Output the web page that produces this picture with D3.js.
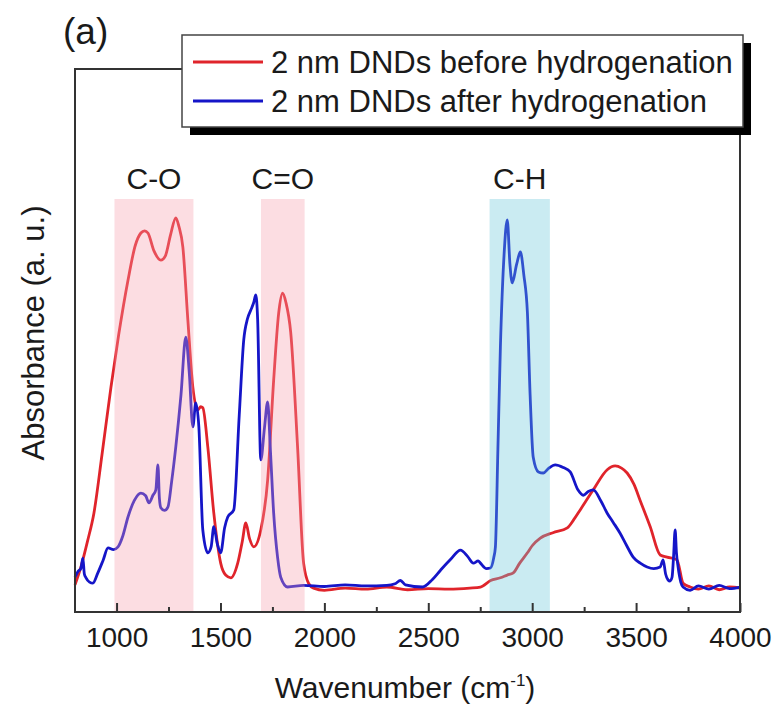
<!DOCTYPE html>
<html>
<head>
<meta charset="utf-8">
<script src="https://cdn.jsdelivr.net/npm/d3@7"></script>
<style>
    body { margin: 0; background: #fff; }
    #chart-area { width: 776px; height: 715px; }
    text { font-family: "Liberation Sans", Arial, sans-serif; fill: #1a1a1a; }
</style>
</head>
<body>
<div id="chart-area"></div>
<script>

// FTIR spectra: [wavenumber (cm-1), absorbance (a.u.)]
const beforeH = [
    [800,5.0],[830,8.5],[860,13],[891,18.2],[930,29],[973,41.4],[1010,51],[1055,61.1],[1090,67.5],
    [1117,69.8],[1135,70.2],[1151,69.8],[1180,66.5],[1213,64.8],[1235,65.6],[1260,69.5],[1285,72.6],
    [1300,71.0],[1319,67.2],[1343,53.8],[1367,41.4],[1391,37.2],[1405,37.8],[1415,37.6],[1439,30.4],
    [1468,18.2],[1501,9.0],[1525,6.8],[1550,6.3],[1583,9.0],[1605,13],[1622,16.4],[1640,13.5],
    [1660,12.0],[1694,15.1],[1727,24.3],[1756,42.7],[1780,55],[1799,58.7],[1815,57.0],[1838,51.5],
    [1871,30.4],[1900,9.0],[1925,5.2],[1948,4.4],[2000,4.0],[2100,4.4],[2200,4.2],[2300,4.6],
    [2400,4.1],[2500,4.3],[2600,4.2],[2700,4.4],[2751,4.6],[2800,5.8],[2847,6.3],[2880,6.8],
    [2909,7.2],[2940,9.0],[2977,10.9],[3000,12.2],[3039,13.6],[3100,14.6],[3169,15.5],[3200,17],
    [3231,18.8],[3294,22.5],[3361,26.2],[3399,26.9],[3430,26.5],[3457,25.6],[3490,23.5],[3519,20.6],
    [3568,15.7],[3616,10.5],[3649,10.1],[3697,9.6],[3726,5.3],[3760,4.6],[3800,4.2],[3850,4.8],
    [3900,4.1],[3950,4.6],[4000,4.4]
];

const afterH = [
    [800,6.4],[815,7.5],[828,8],[838,9.9],[845,7],[853,6.3],[870,5.5],[886,5.3],[910,7.2],[935,9.5],
    [959,11.8],[985,11.5],[1007,12.0],[1030,14],[1055,17.5],[1085,20.5],[1117,21.9],[1140,21.4],
    [1156,20.1],[1175,21.5],[1189,22.5],[1199,27.1],[1206,21],[1213,19.2],[1230,18.7],[1247,19.3],
    [1265,24],[1285,30.4],[1310,40],[1333,50.6],[1350,44],[1367,34.1],[1381,38.5],[1396,34.1],
    [1415,15.1],[1439,10.9],[1455,12],[1468,15.7],[1485,12.5],[1501,10.9],[1520,15.5],[1535,17.5],
    [1564,18.8],[1590,36],[1612,50.1],[1630,54],[1646,55.6],[1660,57],[1670,58.4],[1679,53.8],
    [1694,28.0],[1712,34],[1727,38.7],[1740,30],[1756,18.2],[1775,10],[1790,6.4],[1823,4.6],
    [1900,4.9],[2000,4.7],[2100,5.0],[2200,4.8],[2300,4.9],[2340,5.2],[2366,5.8],[2390,5.0],
    [2472,4.6],[2520,6.0],[2559,7.7],[2610,9.8],[2655,11.4],[2690,10.2],[2717,9.0],[2740,9.4],
    [2751,9.0],[2780,8.0],[2799,8.1],[2815,10],[2823,12.0],[2835,30],[2847,48.8],[2865,66],
    [2880,72.2],[2893,64],[2904,60.6],[2925,64],[2943,66.3],[2960,62],[2977,55.1],[2990,40],
    [3005,28.5],[3030,25.8],[3053,25.6],[3080,26.5],[3111,27.1],[3150,26.6],[3183,25.8],[3220,22.5],
    [3246,21.5],[3270,22.2],[3294,22.5],[3330,20.5],[3361,18.2],[3390,16.5],[3423,14.5],[3455,12.2],
    [3486,10.1],[3520,9.0],[3553,8.3],[3585,8.0],[3616,8.3],[3630,9.6],[3642,7],[3654,5.9],
    [3663,5.7],[3673,6.4],[3680,10],[3688,15.1],[3694,11],[3702,8.3],[3715,5.5],[3726,4.6],
    [3760,4.0],[3800,4.8],[3850,4.2],[3900,4.9],[3950,4.3],[4000,4.6]
];

// shaded bond regions
const bandLabels = ["C-O", "C=O", "C-H"];
const bandRanges = [[990, 1370], [1695, 1905], [2795, 3085]];
const bandColors = ["pink", "pink", "cyan"];

const seriesNames = ["2 nm DNDs before hydrogenation", "2 nm DNDs after hydrogenation"];
const majorTicks = [1000, 1500, 2000, 2500, 3000, 3500, 4000];
const minorTicks = [1250, 1750, 2250, 2750, 3250, 3750];


class FtirVis {

    constructor(_parentElement) {
        this.parentElement = _parentElement;
        this.initVis();
    }

    initVis() {
        let vis = this;

        vis.margin = {top: 69, right: 36, bottom: 103, left: 75};
        vis.width = 776 - vis.margin.left - vis.margin.right;
        vis.height = 715 - vis.margin.top - vis.margin.bottom;

        vis.svg = d3.select("#" + vis.parentElement).append("svg")
            .attr("width", 776)
            .attr("height", 715);

        vis.g = vis.svg.append("g")
            .attr("transform", `translate(${vis.margin.left}, ${vis.margin.top})`);

        vis.x = d3.scaleLinear().domain([800, 4000]).range([0, vis.width]);
        vis.y = d3.scaleLinear().domain([0, 100]).range([vis.height, 0]);

        vis.colors = {red: "#e0242b", blue: "#1515c8"};
        vis.bandFill = {pink: "rgb(246,158,172)", cyan: "rgb(104,198,218)"};

        vis.wrangleData();
    }

    wrangleData() {
        let vis = this;
        vis.bands = bandLabels.map((d, i) => ({label: d, range: bandRanges[i], color: bandColors[i]}));
        vis.updateVis();
    }

    updateVis() {
        let vis = this;

        // spectra
        let line = d3.line()
            .x(d => vis.x(d[0]))
            .y(d => vis.y(d[1]))
            .curve(d3.curveMonotoneX);

        vis.g.selectAll(".spectrum")
            .data([{d: beforeH, c: vis.colors.red}, {d: afterH, c: vis.colors.blue}])
            .enter().append("path")
            .attr("class", "spectrum")
            .attr("fill", "none")
            .attr("stroke", d => d.c)
            .attr("stroke-width", 2.8)
            .attr("stroke-linejoin", "round")
            .attr("d", d => line(d.d));

        // translucent bands sit over the curves (as in the original)
        let bandTop = 199 - vis.margin.top;
        vis.g.selectAll(".band")
            .data(vis.bands)
            .enter().append("rect")
            .attr("class", "band")
            .attr("x", d => vis.x(d.range[0]))
            .attr("width", d => vis.x(d.range[1]) - vis.x(d.range[0]))
            .attr("y", bandTop)
            .attr("height", vis.height - bandTop)
            .attr("fill", d => vis.bandFill[d.color])
            .attr("fill-opacity", 0.35);

        vis.g.selectAll(".band-label")
            .data(vis.bands)
            .enter().append("text")
            .attr("class", "band-label")
            .attr("x", d => vis.x((d.range[0] + d.range[1]) / 2))
            .attr("y", 189 - vis.margin.top)
            .attr("text-anchor", "middle")
            .style("font-size", "30px")
            .text(d => d.label);

        // axes: major + minor ticks pointing inward
        vis.g.append("g")
            .attr("class", "x-axis")
            .attr("transform", `translate(0, ${vis.height})`)
            .call(d3.axisBottom(vis.x).tickValues(majorTicks).tickFormat(d3.format("d"))
                .tickSizeInner(-9).tickSizeOuter(0).tickPadding(15))
            .call(g => g.select(".domain").remove())
            .call(g => g.selectAll("line").attr("stroke", "#333").attr("stroke-width", 2))
            .call(g => g.selectAll("text").style("font-size", "28px").attr("fill", "#1a1a1a"));

        vis.g.append("g")
            .attr("transform", `translate(0, ${vis.height})`)
            .call(d3.axisBottom(vis.x).tickValues(minorTicks).tickSizeInner(-5).tickSizeOuter(0).tickFormat(""))
            .call(g => g.select(".domain").remove())
            .call(g => g.selectAll("line").attr("stroke", "#333").attr("stroke-width", 2));

        // frame
        vis.g.append("rect")
            .attr("width", vis.width)
            .attr("height", vis.height)
            .attr("fill", "none")
            .attr("stroke", "#333")
            .attr("stroke-width", 2);

        // axis titles
        let xt = vis.svg.append("text")
            .attr("x", 405)
            .attr("y", 698)
            .attr("text-anchor", "middle")
            .style("font-size", "30px");
        xt.append("tspan").text("Wavenumber (cm");
        xt.append("tspan").attr("dy", -12).style("font-size", "17px").text("-1");
        xt.append("tspan").attr("dy", 12).text(")");

        vis.svg.append("text")
            .attr("transform", "translate(44, 333) rotate(-90)")
            .attr("text-anchor", "middle")
            .style("font-size", "31px")
            .text("Absorbance (a. u.)");

        vis.svg.append("text")
            .attr("x", 63)
            .attr("y", 44)
            .style("font-size", "37px")
            .text("(a)");

        // legend with drop shadow
        let lg = vis.svg.append("g").attr("transform", "translate(182, 35)");
        lg.append("rect").attr("x", 8).attr("y", 8).attr("width", 561).attr("height", 92).attr("fill", "#000");
        lg.append("rect").attr("width", 561).attr("height", 92)
            .attr("fill", "#fff").attr("stroke", "#444").attr("stroke-width", 1.5);

        let items = lg.selectAll(".legend-item")
            .data(seriesNames)
            .enter().append("g")
            .attr("class", "legend-item")
            .attr("transform", (d, i) => `translate(0, ${27 + i * 39})`);
        items.append("line")
            .attr("x1", 11).attr("x2", 81)
            .attr("stroke", (d, i) => i === 0 ? vis.colors.red : vis.colors.blue)
            .attr("stroke-width", 2.8);
        items.append("text")
            .attr("x", 89)
            .attr("y", 11)
            .style("font-size", "31px")
            .text(d => d);
    }
}

new FtirVis("chart-area");

</script>
</body>
</html>
